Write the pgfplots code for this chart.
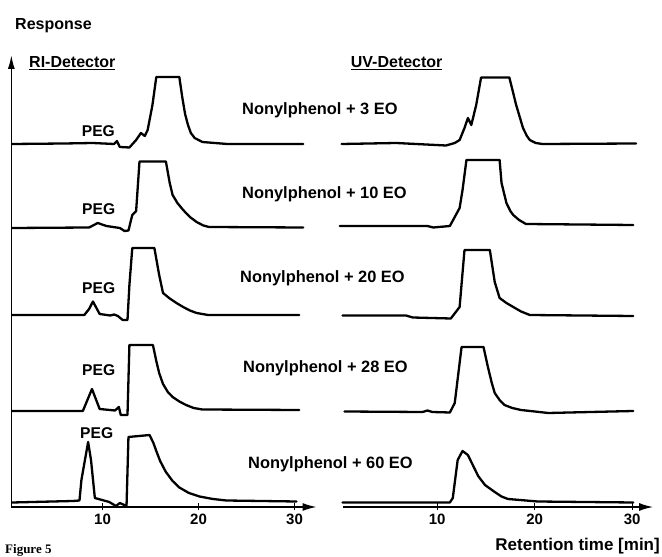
\documentclass[border=0pt]{standalone}
\usepackage{pgfplots}
\pgfplotsset{compat=1.18}
\usepackage{fontspec}
\setmainfont{Liberation Sans}
\usetikzlibrary{arrows.meta}
\newfontfamily\figfont{Liberation Serif}
\begin{document}
\begin{tikzpicture}[x=1pt,y=1pt]
\useasboundingbox (0,0) rectangle (662,557);
\pgfplotsset{
  chrom/.style={
    y=1pt, ymin=0, ymax=452, clip=false,
    ytick=\empty, xtick={10,20,30},
    tick align=outside, major tick length=7pt,
    tick style={line width=1.3pt, black},
    /pgf/number format/assume math mode=true,
    xticklabel style={font=\fontsize{15}{15}\selectfont\bfseries},
    axis line style={line width=1.6pt},
  },
  trace/.style={black, line width=2.3pt, line join=round, line cap=round, no marks},
}
% ---------------- RI detector ----------------
\begin{axis}[chrom, at={(11.8,50)}, anchor=south west, x=9.6pt,
  xmin=0.5, xmax=32.3,
  axis x line=bottom, axis y line=left,
  x axis line style={-{Latex[length=14pt,width=8pt]}},
  y axis line style={-{Latex[length=14pt,width=7pt]}}]
\addplot[trace] coordinates {
(0.6,363) (6,363.5) (9,364) (11.2,363) (11.5,366) (11.8,360) (12.8,359.5) (13.5,367) (14.0,374) (14.4,371) (14.7,377) (15.2,402) (15.6,430) (18.0,430) (18.3,410) (18.6,393) (18.9,382) (19.2,374) (19.6,369) (20.4,365) (23,363) (30.9,363)};
\addplot[trace] coordinates {
(0.6,279) (8.6,279.5) (9.5,284) (10.4,281) (11.8,279) (12.3,276) (12.7,276.5) (13.1,292) (13.5,296) (13.85,345.5) (16.6,345.5) (17.0,324) (17.3,312) (17.8,304) (18.4,297) (19.1,290) (19.8,285) (20.5,281.5) (21.1,280) (30.9,279.5)};
\addplot[trace] coordinates {
(0.6,192) (8.1,192) (8.6,198) (9.0,205.5) (9.7,193) (10.8,191.5) (11.2,192.5) (11.6,191) (12.1,187) (12.6,187) (12.8,222) (13.1,259) (15.4,259) (15.9,232) (16.3,214) (17.0,208.5) (17.7,204) (18.4,200) (19.1,196.5) (19.8,194) (21,192) (30.5,192)};
\addplot[trace] coordinates {
(0.6,96) (7.95,96) (8.9,118) (9.7,98) (11.3,96.5) (11.7,100) (11.9,92) (12.6,92) (12.8,162) (15.25,162) (15.6,146) (15.9,134) (16.3,123) (16.8,115) (17.3,110) (18.0,105.5) (18.7,102) (19.5,99) (20.4,97.5) (30.5,97)};
\addplot[trace] coordinates {
(0.6,4.5) (6.9,6) (7.6,6.5) (7.8,27) (8.5,65) (8.8,47) (9.2,9) (10.7,5) (11.4,1) (11.8,4) (12.5,1) (12.7,70) (14.9,72) (15.3,64) (15.6,56) (16.0,46) (16.6,35) (17.3,26) (18.0,19.5) (19.0,14) (20.1,10.5) (21.5,8) (22.9,6.5) (30.2,5.5)};
\end{axis}
% ---------------- UV detector ----------------
\begin{axis}[chrom, at={(351.9,50)}, anchor=south west, x=9.75pt,
  xmin=0.35, xmax=32.15,
  axis x line=bottom, axis y line=none,
  x axis line style={-{Latex[length=14pt,width=8pt]}}]
\addplot[trace] coordinates {
(0.2,363) (5.8,364) (10.9,361.5) (11.8,364) (12.3,367) (12.8,379) (13.15,389) (13.5,382) (14.0,402) (14.5,429.5) (17.4,429.5) (18.1,402) (18.8,379) (19.2,371) (19.5,367) (20.1,364) (20.8,363) (30.4,363.5)};
\addplot[trace] coordinates {
(0.0,281) (9.0,281) (9.6,279.5) (11.3,281) (11.8,290) (12.3,299) (12.6,317) (13.0,347) (16.4,347) (16.6,324) (17.1,304) (17.5,296) (17.8,292) (18.4,287) (19.1,283) (30.1,282)};
\addplot[trace] coordinates {
(0.3,191.5) (6.8,191.5) (7.5,189.5) (11.4,188.5) (12.3,200) (12.8,257) (15.4,257) (15.9,225) (16.4,209) (17.1,204) (17.8,200) (18.6,195.5) (19.5,192) (30.1,191)};
\addplot[trace] coordinates {
(0.5,95.5) (8.5,95) (9.0,96.5) (9.5,95) (11.3,94.5) (11.8,104) (12.5,160) (14.75,160) (15.2,140) (15.6,124) (15.9,114) (16.4,107) (16.9,102) (17.7,99) (18.6,97) (21.4,94) (30.1,96)};
\addplot[trace] coordinates {
(0.3,4.5) (11.3,4.5) (11.6,9) (12.1,47) (12.6,56) (13.15,52) (13.7,41) (14.2,31) (14.9,22) (15.9,15) (16.6,10.5) (17.25,8) (18.5,7) (20.3,5.5) (30.1,4.5)};
\end{axis}
% ---------------- texts ----------------
\begin{scope}[every node/.style={inner sep=0pt, font=\bfseries}]
\node[anchor=base west, font=\fontsize{16}{16}\selectfont\bfseries] at (15,527.7) {Response};
\node[anchor=base west, font=\fontsize{16}{16}\selectfont\bfseries] at (29,489) {\underline{RI-Detector}};
\node[anchor=base west, font=\fontsize{16}{16}\selectfont\bfseries] at (350.7,489) {\underline{UV-Detector}};
\node[anchor=base west, font=\fontsize{16.4}{17}\selectfont\bfseries] at (242,442) {Nonylphenol + 3 EO};
\node[anchor=base west, font=\fontsize{16.4}{17}\selectfont\bfseries] at (242,358) {Nonylphenol + 10 EO};
\node[anchor=base west, font=\fontsize{16.4}{17}\selectfont\bfseries] at (240,274) {Nonylphenol + 20 EO};
\node[anchor=base west, font=\fontsize{16.4}{17}\selectfont\bfseries] at (243,184) {Nonylphenol + 28 EO};
\node[anchor=base west, font=\fontsize{16.4}{17}\selectfont\bfseries] at (248,88) {Nonylphenol + 60 EO};
\foreach \px/\py in {81.7/420.3, 82/342, 82/263.7, 82/181.3, 80/118.7}
  \node[anchor=base west, font=\fontsize{15.6}{16}\selectfont\bfseries] at (\px,\py) {PEG};
\node[anchor=base east, font=\fontsize{17}{17}\selectfont\bfseries] at (660,6) {Retention time [min]};
\node[anchor=base west, font=\fontsize{13}{13}\selectfont\figfont\bfseries] at (5,3) {Figure 5};
\end{scope}
\end{tikzpicture}
\end{document}
